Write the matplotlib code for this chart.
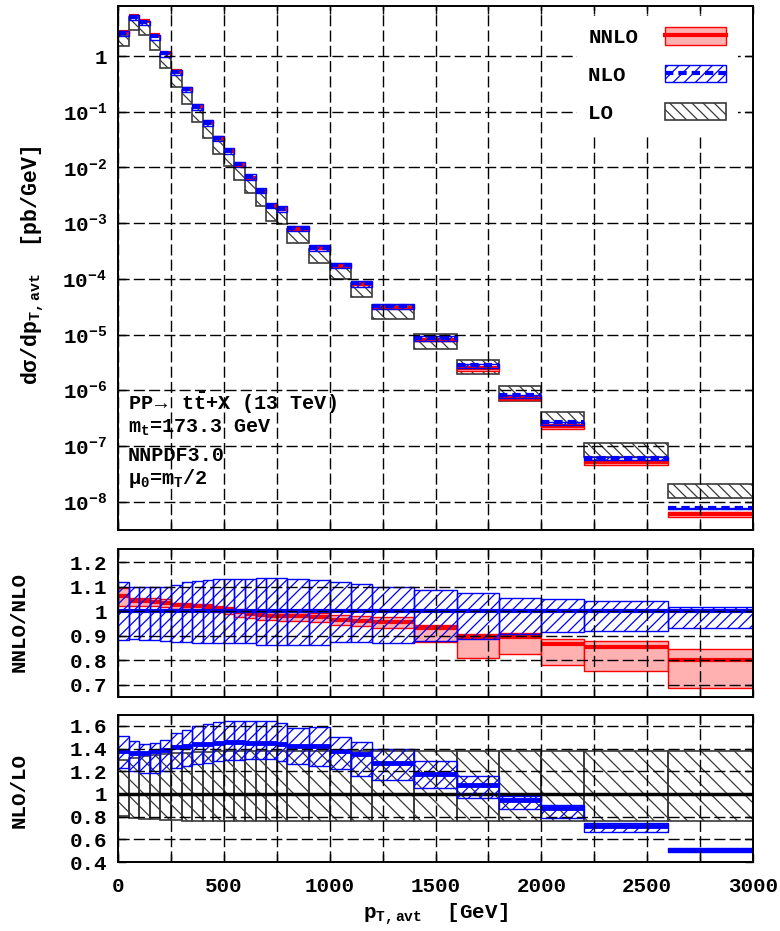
import numpy as np
import matplotlib
matplotlib.use('Agg')
import matplotlib.pyplot as plt
from matplotlib.patches import Patch
from matplotlib.lines import Line2D
from matplotlib.legend_handler import HandlerTuple
from matplotlib.ticker import MultipleLocator, FixedLocator, FuncFormatter, NullLocator

plt.rcParams['font.family'] = ['Liberation Mono', 'DejaVu Sans']
plt.rcParams['font.weight'] = 'bold'
plt.rcParams['mathtext.fontset'] = 'custom'
plt.rcParams['mathtext.rm'] = 'Liberation Mono:bold'
plt.rcParams['mathtext.it'] = 'Liberation Mono:bold'
plt.rcParams['mathtext.bf'] = 'Liberation Mono:bold'
plt.rcParams['mathtext.default'] = 'regular'
plt.rcParams['hatch.linewidth'] = 0.9

# ---------------- data ----------------
edges = [0, 50, 100, 150, 200, 250, 300, 350, 400, 450, 500, 550, 600, 650, 700,
         750, 800, 900, 1000, 1100, 1200, 1400, 1600, 1800, 2000, 2200, 2600, 3000]

# LO differential cross section [pb/GeV]
lo_xsec = [1.85, 3.75, 3.0, 1.66, 0.80, 0.365, 0.178, 0.0863, 0.0442, 0.0228,
           0.01365, 0.00776, 0.00455, 0.00265, 0.00141, 0.00125, 5.69e-4, 2.54e-4,
           1.30e-4, 6.14e-5, 2.5e-5, 7.3e-6, 2.57e-6, 8.5e-7, 2.99e-7, 8.3e-8, 1.5e-8]
# LO scale band relative to LO central
lo_band_lo = [0.806, 0.790, 0.780, 0.775, 0.770, 0.770, 0.765, 0.765, 0.762, 0.762,
              0.762, 0.762, 0.762, 0.762, 0.762, 0.762, 0.762, 0.762, 0.762, 0.762,
              0.762, 0.762, 0.762, 0.762, 0.762, 0.762, 0.762]
lo_band_hi = [1.300, 1.317, 1.335, 1.345, 1.355, 1.360, 1.365, 1.370, 1.372, 1.375,
              1.375, 1.375, 1.375, 1.375, 1.375, 1.375, 1.375, 1.375, 1.375, 1.375,
              1.375, 1.375, 1.375, 1.375, 1.375, 1.375, 1.375]
# NLO / LO
nlo_k = [1.378, 1.357, 1.363, 1.378, 1.39, 1.413, 1.42, 1.436, 1.44, 1.45,
         1.46, 1.46, 1.45, 1.45, 1.45, 1.44, 1.42, 1.42, 1.378, 1.35,
         1.273, 1.18, 1.083, 0.95, 0.88, 0.72, 0.505]
nlo_k_lo = [1.232, 1.203, 1.188, 1.188, 1.20, 1.232, 1.247, 1.26, 1.276, 1.29,
            1.296, 1.30, 1.305, 1.305, 1.305, 1.29, 1.26, 1.247, 1.217, 1.16,
            1.127, 1.05, 0.967, 0.864, 0.79, 0.665, 0.49]
nlo_k_hi = [1.51, 1.466, 1.436, 1.45, 1.48, 1.538, 1.567, 1.597, 1.617, 1.635,
            1.646, 1.645, 1.641, 1.641, 1.64, 1.626, 1.58, 1.588, 1.50, 1.46,
            1.396, 1.287, 1.156, 0.98, 0.90, 0.748, 0.52]
# NLO scale band relative to NLO central
nlo_rel_lo = [0.883, 0.886, 0.883, 0.883, 0.879, 0.875, 0.875, 0.87, 0.87, 0.87,
              0.87, 0.87, 0.87, 0.861, 0.861, 0.861, 0.861, 0.861, 0.875, 0.875,
              0.87, 0.879, 0.886, 0.907, 0.914, 0.918, 0.932]
nlo_rel_hi = [1.12, 1.10, 1.097, 1.10, 1.10, 1.105, 1.12, 1.122, 1.126, 1.13,
              1.13, 1.132, 1.132, 1.136, 1.136, 1.133, 1.13, 1.125, 1.12, 1.112,
              1.10, 1.0875, 1.074, 1.053, 1.049, 1.042, 1.018]
# NNLO / NLO
nnlo_r = [1.06, 1.04, 1.04, 1.038, 1.035, 1.025, 1.022, 1.02, 1.015, 1.01,
          1.005, 0.995, 0.99, 0.985, 0.982, 0.98, 0.978, 0.975, 0.965, 0.96,
          0.955, 0.93, 0.895, 0.895, 0.865, 0.855, 0.80]
nnlo_r_lo = [1.02, 1.02, 1.02, 1.02, 1.018, 1.01, 1.008, 1.005, 1.0, 0.995,
             0.99, 0.975, 0.97, 0.965, 0.962, 0.96, 0.958, 0.955, 0.945, 0.94,
             0.93, 0.875, 0.81, 0.825, 0.78, 0.755, 0.685]
nnlo_r_hi = [1.095, 1.055, 1.055, 1.052, 1.05, 1.035, 1.033, 1.03, 1.028, 1.022,
             1.018, 1.01, 1.005, 1.0, 0.998, 0.995, 0.995, 0.993, 0.985, 0.98,
             0.975, 0.942, 0.905, 0.91, 0.885, 0.88, 0.845]

legend_labels = ['NNLO', 'NLO', 'LO']

# ---------------- derived ----------------
e = np.array(edges, float)
left, right, width = e[:-1], e[1:], np.diff(e)
lo = np.array(lo_xsec)
nlo = lo * np.array(nlo_k)
nnlo = nlo * np.array(nnlo_r)

RED_FILL = '#ffb0b0'
GRAY = '#3a3a3a'
FS = 15

fig = plt.figure(figsize=(7.8, 9.31), dpi=100)
L, W = 118 / 780, 635 / 780
ax1 = fig.add_axes([L, 1 - 530 / 931, W, 524 / 931])
ax2 = fig.add_axes([L, 1 - 697 / 931, W, 148 / 931])
ax3 = fig.add_axes([L, 1 - 862 / 931, W, 147 / 931])


def band(ax, lo_, hi_, z, **kw):
    lo_ = np.asarray(lo_); hi_ = np.asarray(hi_)
    ax.bar(left, hi_ - lo_, bottom=lo_, width=width, align='edge', zorder=z, **kw)


def central(ax, y, z, **kw):
    ax.hlines(y, left, right, zorder=z, **kw)


nlo_dash = (0, (2.0, 1.2))

# ---- top panel ----
ax1.set_yscale('log')
band(ax1, lo * np.array(lo_band_lo), lo * np.array(lo_band_hi), 1.0,
     facecolor='none', edgecolor=GRAY, hatch='\\\\\\', lw=1.2)
band(ax1, nlo * np.array(nnlo_r_lo), nlo * np.array(nnlo_r_hi), 1.2,
     facecolor=RED_FILL, edgecolor='red', lw=1)
central(ax1, nnlo, 1.3, color='red', lw=3)
band(ax1, lo * np.array(nlo_k_lo), lo * np.array(nlo_k_hi), 1.4,
     facecolor='none', edgecolor='blue', hatch='///', lw=1)
central(ax1, nlo, 1.5, color='blue', lw=3, linestyles=[nlo_dash])
ax1.set_ylim(10 ** -8.51, 10 ** 0.898)
ax1.yaxis.set_major_locator(FixedLocator([10.0 ** k for k in range(-8, 1)]))
ax1.yaxis.set_minor_locator(NullLocator())
ax1.yaxis.set_major_formatter(FuncFormatter(
    lambda v, p: '1' if abs(np.log10(v)) < 1e-9 else r'$10^{%d}$' % int(round(np.log10(v)))))

# ---- middle panel: NNLO/NLO ----
band(ax2, nnlo_r_lo, nnlo_r_hi, 1.2, facecolor=RED_FILL, edgecolor='red', lw=1)
central(ax2, nnlo_r, 1.3, color='red', lw=3)
band(ax2, nlo_rel_lo, nlo_rel_hi, 1.4, facecolor='none', edgecolor='blue', hatch='///', lw=1)
central(ax2, np.ones(len(left)), 1.5, color='blue', lw=3)
ax2.set_ylim(0.65, 1.253)
ax2.yaxis.set_major_locator(FixedLocator([0.7, 0.8, 0.9, 1.0, 1.1, 1.2]))

# ---- bottom panel: NLO/LO ----
band(ax3, lo_band_lo, lo_band_hi, 1.0, facecolor='none', edgecolor=GRAY, hatch='\\\\', lw=1.2)
central(ax3, np.ones(len(left)), 1.1, color='black', lw=2.5)
band(ax3, nlo_k_lo, nlo_k_hi, 1.4, facecolor='none', edgecolor='blue', hatch='///', lw=1)
central(ax3, nlo_k, 1.5, color='blue', lw=3.5)
ax3.set_ylim(0.4, 1.696)
ax3.yaxis.set_major_locator(FixedLocator([0.4, 0.6, 0.8, 1.0, 1.2, 1.4, 1.6]))

grid_ls = (0, (8, 3))
for ax in (ax1, ax2, ax3):
    ax.set_xlim(0, 3000)
    ax.xaxis.set_major_locator(MultipleLocator(500))
    ax.xaxis.set_minor_locator(MultipleLocator(250))
    ax.set_axisbelow(False)
    ax.grid(True, which='both', axis='x', color='black', ls=grid_ls, lw=1.0)
    ax.grid(True, which='major', axis='y', color='black', ls=grid_ls, lw=1.0)
    ax.tick_params(which='both', direction='in', top=True, right=True,
                   length=6, width=1.0, labelsize=FS, pad=8)
    for s in ax.spines.values():
        s.set_linewidth(1.4)
    if ax is not ax3:
        ax.tick_params(labelbottom=False)

ax2.yaxis.set_major_formatter(FuncFormatter(lambda v, p: '%g' % v))
ax3.yaxis.set_major_formatter(FuncFormatter(lambda v, p: '%g' % v))
ax3.tick_params(axis='x', pad=11)

# ---- legend (labels left-justified, monospace padding) ----
h_nnlo = (Patch(facecolor=RED_FILL, edgecolor='red', lw=1), Line2D([], [], color='red', lw=3))
h_nlo = (Patch(facecolor='white', edgecolor='blue', hatch='///', lw=1),
         Line2D([], [], color='blue', lw=3, ls=nlo_dash))
h_lo = (Patch(facecolor='white', edgecolor=GRAY, hatch='\\\\\\', lw=1.2),)
nmax = max(len(s) for s in legend_labels)
padded = [s.ljust(nmax) for s in legend_labels]
leg = ax1.legend([h_nnlo, h_nlo, h_lo], padded, loc='upper right',
                 bbox_to_anchor=(0.976, 0.981), borderaxespad=0, markerfirst=False,
                 handlelength=2.93, handleheight=0.91, labelspacing=0.85,
                 handletextpad=1.3, borderpad=0.55, fancybox=False, framealpha=1,
                 edgecolor='none', facecolor='white', fontsize=FS,
                 handler_map={tuple: HandlerTuple(ndivide=1)})

# ---- annotation text ----
info = [r'PP$\rightarrow$ t$\bar{\mathrm{t}}$+X (13 TeV)',
        r'm$_{\mathrm{t}}$=173.3 GeV',
        'NNPDF3.0',
        r'$\mu_{\mathrm{0}}$=m$_{\mathrm{T}}$/2']
for txt, ypx in zip(info, [403, 428, 455, 478]):
    ax1.text(10 / 635, (530 - ypx) / 524, txt, transform=ax1.transAxes,
             ha='left', va='center', fontsize=FS - 0.5, zorder=6)

# ---- axis labels ----
fig.text(33 / 780, 1 - 265 / 931, r'd$\sigma$/dp$_{\mathrm{T,avt}}$  [pb/GeV]',
         rotation=90, ha='center', va='center', fontsize=FS + 0.5)
fig.text(19 / 780, 1 - 622 / 931, 'NNLO/NLO', rotation=90, ha='center', va='center', fontsize=FS)
fig.text(19 / 780, 1 - 790 / 931, 'NLO/LO', rotation=90, ha='center', va='center', fontsize=FS)
fig.text(435 / 780, 1 - 914 / 931, r'p$_{\mathrm{T,avt}}$  [GeV]', ha='center', va='center', fontsize=FS)

fig.savefig('out.png', dpi=100)
